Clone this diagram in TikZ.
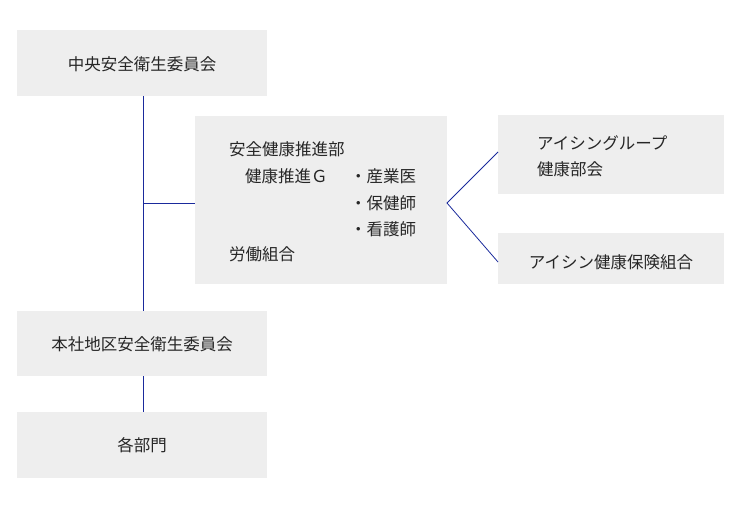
\documentclass[tikz,border=0pt]{standalone}
\usepackage{fontspec}
\setmainfont{Noto Sans CJK JP}
\definecolor{boxfill}{HTML}{EEEEEE}
\definecolor{linec}{HTML}{1A2A9C}
\begin{document}
\begin{tikzpicture}[x=1pt,y=-1pt,
  bx/.style={fill=boxfill,draw=none},
  ln/.style={draw=linec,line width=0.8pt},
  tx/.style={font=\fontsize{16.5}{20}\selectfont,text=black!85,inner sep=0pt}]
\useasboundingbox (0,0) rectangle (743,510);
\fill[bx] (17,30) rectangle (267,96);
\fill[bx] (195,116) rectangle (447,284);
\fill[bx] (498,115) rectangle (724,194);
\fill[bx] (498,233) rectangle (724,284);
\fill[bx] (17,311) rectangle (267,376);
\fill[bx] (17,412) rectangle (267,478);
\node[tx] (a) at (142,64) {中央安全衛生委員会};
\node[tx] (c) at (142,344) {本社地区安全衛生委員会};
\node[tx] (d) at (142,445) {各部門};
\node[tx,anchor=west] at (229,149) {安全健康推進部};
\node[tx,anchor=west] at (245,176) {健康推進Ｇ};
\node[tx,anchor=west] at (350,176) {・産業医};
\node[tx,anchor=west] at (350,203) {・保健師};
\node[tx,anchor=west] at (350,229) {・看護師};
\node[tx,anchor=west] at (229,254) {労働組合};
\node[tx,anchor=west] at (537,143) {アイシングループ};
\node[tx,anchor=west] at (537,169) {健康部会};
\node[tx] at (611,262) {アイシン健康保険組合};
\coordinate (t1) at (143,96);
\coordinate (t2) at (143,311);
\coordinate (j) at (143,203);
\coordinate (m) at (195,203);
\coordinate (t3) at (143,376);
\coordinate (t4) at (143,412);
\coordinate (r) at (447,203);
\coordinate (r1) at (498,152);
\coordinate (r2) at (498,262);
\draw[ln] (t1) -- (t2);
\draw[ln] (j) -- (m);
\draw[ln] (t3) -- (t4);
\draw[ln] (r1) -- (r) -- (r2);
\end{tikzpicture}
\end{document}
